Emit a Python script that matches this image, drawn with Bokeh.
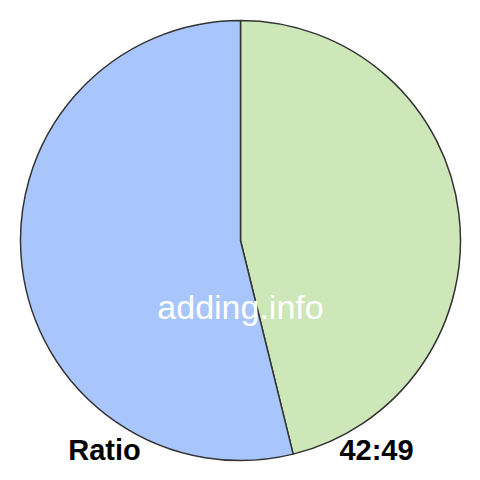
import math
from bokeh.plotting import figure
from bokeh.models import Range1d, ColumnDataSource
from bokeh.core.properties import value
from bokeh.embed import file_html
from bokeh.resources import INLINE

labels = ["42", "49"]
values = [42, 49]
colors = ["#cde7b8", "#a8c6fb"]
title_left = "Ratio"
title_right = "42:49"
watermark = "adding.info"

W = H = 464
cx, cy, r = 240, H - 240, 220

total = sum(values)
starts, ends = [], []
cum = 0.0
for v in values:
    a0 = math.pi / 2 - 2 * math.pi * (cum + v) / total
    a1 = math.pi / 2 - 2 * math.pi * cum / total
    starts.append(a0)
    ends.append(a1)
    cum += v

src = ColumnDataSource(dict(x=[cx] * len(values), y=[cy] * len(values),
                            start=starts, end=ends, color=colors, label=labels))

p = figure(width=W, height=H, x_range=Range1d(0, W), y_range=Range1d(0, H),
           output_backend="svg", toolbar_location=None, min_border=0,
           outline_line_color=None, background_fill_color="white")
p.axis.visible = False
p.grid.visible = False

p.wedge(x="x", y="y", radius=r, start_angle="start", end_angle="end",
        fill_color="color", line_color="#333333", line_width=1.5, source=src)

p.text(x=[cx], y=[H - 306], text=[watermark], text_color="white",
       text_font=value("Liberation Sans"), text_font_size="34px",
       text_align="center", text_baseline="middle")

p.text(x=[104], y=[H - 449], text=[title_left], text_color="black",
       text_font=value("Liberation Sans"), text_font_size="29px", text_font_style="bold",
       text_align="center", text_baseline="middle")
p.text(x=[376], y=[H - 449], text=[title_right], text_color="black",
       text_font=value("Liberation Sans"), text_font_size="29px", text_font_style="bold",
       text_align="center", text_baseline="middle")

open("out.html", "w").write(file_html(p, INLINE))
